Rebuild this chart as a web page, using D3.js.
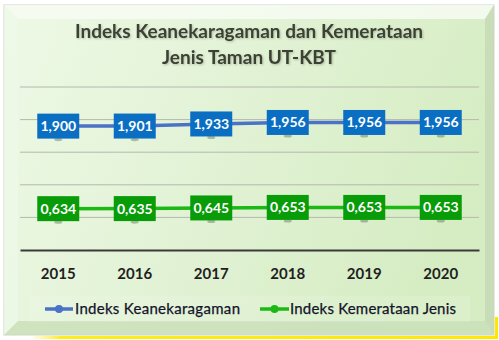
<!DOCTYPE html>
<html>
<head>
<meta charset="utf-8">
<script src="https://cdn.jsdelivr.net/npm/d3@7"></script>
<style>
  html, body { margin: 0; padding: 0; background: #ffffff; }
  svg { display: block; }
  text { font-family: Lato, "Open Sans", "DejaVu Sans", sans-serif; }
</style>
</head>
<body>
<svg id="chart" width="499" height="340"></svg>
<script>
// Chart data
const years = ["2015", "2016", "2017", "2018", "2019", "2020"];
const keanekaragaman = [1.900, 1.901, 1.933, 1.956, 1.956, 1.956];
const kemerataan = [0.634, 0.635, 0.645, 0.653, 0.653, 0.653];
const yTicks = [0, 0.5, 1, 1.5, 2, 2.5];
const titleLines = ["Indeks Keanekaragaman dan Kemerataan", "Jenis Taman UT-KBT"];
const seriesNames = ["Indeks Keanekaragaman", "Indeks Kemerataan Jenis"];

const W = 499, H = 340;
const svg = d3.select("#chart");
const defs = svg.append("defs");

// Panel face gradient
const face = defs.append("linearGradient").attr("id", "face").attr("x1", 0).attr("y1", 0).attr("x2", 1).attr("y2", 0.3);
face.append("stop").attr("offset", "0%").attr("stop-color", "#eef9e6");
face.append("stop").attr("offset", "55%").attr("stop-color", "#e1f2d4");
face.append("stop").attr("offset", "100%").attr("stop-color", "#d6edc4");

const yellowFade = defs.append("linearGradient").attr("id", "yfade").attr("x1", 0).attr("x2", 1);
yellowFade.append("stop").attr("offset", "0%").attr("stop-color", "#fff176").attr("stop-opacity", 0.2);
yellowFade.append("stop").attr("offset", "6%").attr("stop-color", "#ffec1a");
yellowFade.append("stop").attr("offset", "100%").attr("stop-color", "#ffe800");

const shadow = defs.append("filter").attr("id", "tshadow").attr("x", "-5%").attr("y", "-20%").attr("width", "110%").attr("height", "150%");
shadow.append("feDropShadow").attr("dx", 1).attr("dy", 1).attr("stdDeviation", 0.8)
  .attr("flood-color", "#6b7a5c").attr("flood-opacity", 0.45);

// Bevelled panel
const px0 = 4, py0 = 5, px1 = 494, py1 = 335;
const bl = 14, bt = 14, br = 9, bb = 14;
svg.append("rect").attr("x", px0).attr("y", py0).attr("width", px1 - px0).attr("height", py1 - py0)
  .attr("fill", "url(#face)").attr("stroke", "#cfd3cc").attr("stroke-width", 1);

const bevel = [
  { pts: [[px0, py0], [px1, py0], [px1 - br, py0 + bt], [px0 + bl, py0 + bt]], fill: "#f7fcf3", op: 0.85 },
  { pts: [[px0, py0], [px0 + bl, py0 + bt], [px0 + bl, py1 - bb], [px0, py1]], fill: "#eef8e8", op: 0.75 },
  { pts: [[px1, py0], [px1, py1], [px1 - br, py1 - bb], [px1 - br, py0 + bt]], fill: "#c4d8b4", op: 0.8 },
  { pts: [[px0, py1], [px1, py1], [px1 - br, py1 - bb], [px0 + bl, py1 - bb]], fill: "#cadfba", op: 0.85 }
];
svg.selectAll("polygon.bevel").data(bevel).join("polygon")
  .attr("class", "bevel")
  .attr("points", d => d.pts.map(p => p.join(",")).join(" "))
  .attr("fill", d => d.fill).attr("fill-opacity", d => d.op);

// Yellow trim along the lower right
svg.append("rect").attr("x", 33).attr("y", 336).attr("width", 465).attr("height", 3).attr("fill", "url(#yfade)");
svg.append("rect").attr("x", 495).attr("y", 317).attr("width", 3).attr("height", 22).attr("fill", "#ffe800");

// Title
svg.append("g").attr("filter", "url(#tshadow)")
  .selectAll("text").data(titleLines).join("text")
  .attr("x", 249).attr("y", (d, i) => 37.5 + i * 26)
  .attr("text-anchor", "middle")
  .attr("font-size", 19).attr("font-weight", "bold")
  .attr("fill", "#3d3f36")
  .text(d => d);

// Scales
const x = d3.scaleBand().domain(years).range([20, 479]).padding(0);
const y = d3.scaleLinear().domain([0, 2.5]).range([250, 87]);
const cx = d => x(d) + x.bandwidth() / 2;

// Gridlines
svg.append("g").selectAll("line").data(yTicks.filter(t => t > 0)).join("line")
  .attr("x1", 20).attr("x2", 479)
  .attr("y1", d => y(d)).attr("y2", d => y(d))
  .attr("stroke", "#b4b8ae").attr("stroke-width", 1);

// Category axis
const xAxis = svg.append("g").attr("transform", `translate(0,${y(0)})`)
  .call(d3.axisBottom(x).tickSize(0).tickPadding(18));
xAxis.select(".domain").attr("stroke", "#3a3a3a").attr("stroke-width", 2);
xAxis.selectAll("text")
  .attr("font-family", "Lato, 'Open Sans', sans-serif")
  .attr("font-size", 15).attr("font-weight", "bold").attr("fill", "#1f1f1f");

// Series
const series = [
  { name: seriesNames[0], values: keanekaragaman, line: "#4a72c6", box: "#0a6fc2" },
  { name: seriesNames[1], values: kemerataan, line: "#1cb814", box: "#089c08" }
];
const fmt = v => d3.format(".3f")(v).replace(".", ",");

series.forEach(s => {
  const pts = years.map((yr, i) => [cx(yr), y(s.values[i])]);
  svg.append("path").datum(pts)
    .attr("d", d3.line())
    .attr("fill", "none").attr("stroke", s.line).attr("stroke-width", 3.5);

  const g = svg.append("g").selectAll("g").data(pts).join("g")
    .attr("transform", d => `translate(${d[0]},${d[1]})`);
  // marker shadow peeking below the label box
  g.append("ellipse").attr("cx", 0).attr("cy", 13.5).attr("rx", 4).attr("ry", 1.6)
    .attr("fill", "#3c4c3a").attr("fill-opacity", 0.35);
  g.append("rect").attr("x", -21).attr("y", -12.5).attr("width", 42).attr("height", 25)
    .attr("fill", s.box);
  g.append("text").attr("x", 0).attr("y", 5)
    .attr("text-anchor", "middle")
    .attr("font-size", 14).attr("font-weight", "bold").attr("fill", "#ffffff")
    .text((d, i) => fmt(s.values[i]));
});

// Legend
const legendItems = [
  { s: series[0], x0: 45, x1: 73, tx: 75, w: 165 },
  { s: series[1], x0: 260, x1: 289, tx: 290, w: 166 }
];
svg.append("rect").attr("x", 30).attr("y", 296).attr("width", 440).attr("height", 26)
  .attr("fill", "#ffffff").attr("fill-opacity", 0.12);
const lg = svg.append("g").selectAll("g").data(legendItems).join("g");
lg.append("line").attr("x1", d => d.x0).attr("x2", d => d.x1).attr("y1", 309).attr("y2", 309)
  .attr("stroke", d => d.s.line).attr("stroke-width", 3.5);
lg.append("circle").attr("cx", d => (d.x0 + d.x1) / 2).attr("cy", 309).attr("r", 4)
  .attr("fill", d => d.s.line);
lg.append("text").attr("x", d => d.tx).attr("y", 314)
  .attr("font-size", 15).attr("fill", "#14142a")
  .attr("stroke", "#14142a").attr("stroke-width", 0.25)
  .attr("textLength", d => d.w).attr("lengthAdjust", "spacing")
  .text(d => d.s.name);
</script>
</body>
</html>
